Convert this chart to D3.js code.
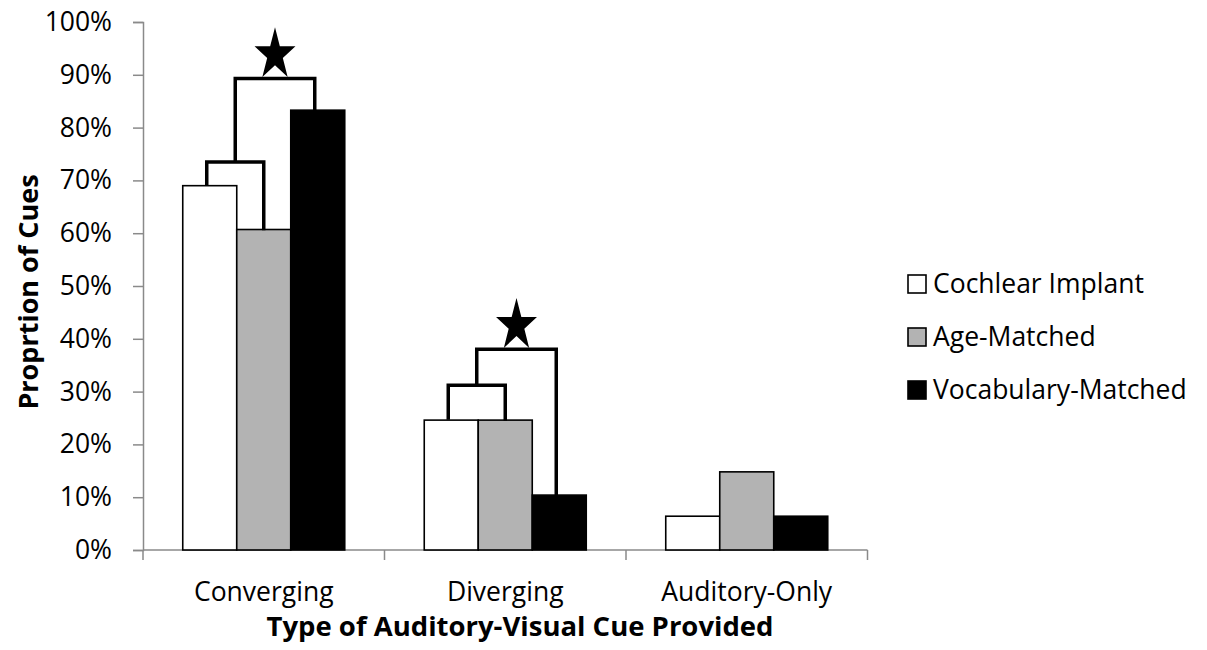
<!DOCTYPE html>
<html>
<head>
<meta charset="utf-8">
<script src="https://cdn.jsdelivr.net/npm/d3@7"></script>
<style>
  html, body { margin: 0; padding: 0; background: #fff; }
  svg { display: block; }
  text { font-family: "Open Sans", "Noto Sans", sans-serif; fill: #000; }
</style>
</head>
<body>
<svg id="chart" width="1207" height="650"></svg>
<script>
// ---- data ----
const categories = ["Converging", "Diverging", "Auditory-Only"];
const seriesNames = ["Cochlear Implant", "Age-Matched", "Vocabulary-Matched"];
const cochlearImplant = [69.0, 24.6, 6.4];
const ageMatched = [60.7, 24.6, 14.8];
const vocabularyMatched = [83.3, 10.4, 6.4];
const yTicks = [0, 10, 20, 30, 40, 50, 60, 70, 80, 90, 100];
// significance brackets (percent levels)
const bracketCategories = ["Converging", "Diverging"];
const innerBracketLevels = [73.5, 31.2];
const outerBracketLevels = [89.3, 38.0];

const seriesValues = [cochlearImplant, ageMatched, vocabularyMatched];
const seriesFill = ["#ffffff", "#b3b3b3", "#000000"];

// ---- layout ----
const svg = d3.select("#chart");
const plot = { left: 143, right: 867.5, top: 22, bottom: 550 };

const x0 = d3.scaleBand().domain(categories).range([plot.left, plot.right]).padding(0);
const x1 = d3.scaleBand().domain(d3.range(seriesNames.length))
  .range([0, x0.bandwidth()]).paddingInner(0).paddingOuter(0.736);
const y = d3.scaleLinear().domain([0, 100]).range([plot.bottom, plot.top]);

const axisColor = "#8a8a8a";

// y axis
const yAxis = d3.axisLeft(y).tickValues(yTicks).tickSize(10).tickPadding(21)
  .tickFormat(d => d + "%");
const gy = svg.append("g").attr("transform", `translate(${plot.left},0)`).call(yAxis);
gy.select(".domain").attr("stroke", axisColor).attr("stroke-width", 1.5);
gy.selectAll(".tick line").attr("stroke", axisColor).attr("stroke-width", 1.5);
gy.selectAll(".tick text").attr("font-size", 26.5).attr("font-family", '"Open Sans", sans-serif').attr("fill", "#000");

// x axis
const xAxis = d3.axisBottom(x0).tickSize(0).tickPadding(0).tickFormat("");
const gx = svg.append("g").attr("transform", `translate(0,${plot.bottom})`).call(xAxis);
gx.select(".domain").attr("stroke", axisColor).attr("stroke-width", 1.5).attr("d", `M${plot.left},0H${plot.right}`);
const boundaries = categories.map(c => x0(c)).concat([x0(categories[categories.length - 1]) + x0.bandwidth()]);
gx.selectAll("line.sep").data(boundaries).join("line").attr("class", "sep")
  .attr("x1", d => d).attr("x2", d => d).attr("y1", 0).attr("y2", 10)
  .attr("stroke", axisColor).attr("stroke-width", 1.5);
gx.selectAll("text.cat").data(categories).join("text").attr("class", "cat")
  .attr("x", d => x0(d) + x0.bandwidth() / 2).attr("y", 51)
  .attr("text-anchor", "middle").attr("font-size", 26.5).text(d => d);

// bars
const barData = [];
categories.forEach((c, ci) => seriesValues.forEach((vals, si) => barData.push({ c, si, v: vals[ci] })));
svg.append("g").selectAll("rect").data(barData).join("rect")
  .attr("x", d => x0(d.c) + x1(d.si))
  .attr("y", d => y(d.v))
  .attr("width", x1.bandwidth())
  .attr("height", d => y(0) - y(d.v))
  .attr("fill", d => seriesFill[d.si])
  .attr("stroke", "#000").attr("stroke-width", 1.6);

// brackets + stars
const bg = svg.append("g").attr("fill", "none").attr("stroke", "#000")
  .attr("stroke-width", 3.5).attr("stroke-linejoin", "miter").attr("stroke-linecap", "square");
const center = (c, si) => x0(c) + x1(si) + x1.bandwidth() / 2 - 3;
const starSym = d3.symbol().type(d3.symbolStar).size(520);
bracketCategories.forEach((c, i) => {
  const ci = categories.indexOf(c);
  const v = seriesValues.map(s => s[ci]);
  const xa = center(c, 0), xb = center(c, 1) + 3, xc = center(c, 2);
  const yi = y(innerBracketLevels[i]), yo = y(outerBracketLevels[i]);
  bg.append("path").attr("d", `M${xa},${y(v[0]) - 2}V${yi}H${xb}V${y(v[1]) - 1}`);
  const xm = (xa + xb) / 2;
  bg.append("path").attr("d", `M${xm},${yi - 1}V${yo}H${xc}V${y(v[2]) - 1}`);
  const sx = (xm + xc) / 2;
  svg.append("path").attr("d", starSym())
    .attr("transform", `translate(${sx},${yo - 1.5 - 21.5 * 0.809 * 1.28}) scale(1,1.28)`)
    .attr("fill", "#000");
});

// axis titles
svg.append("text").attr("x", 520).attr("y", 636)
  .attr("text-anchor", "middle").attr("font-size", 27.5).attr("font-weight", "bold")
  .text("Type of Auditory-Visual Cue Provided");
svg.append("text").attr("transform", "translate(38,292) rotate(-90)")
  .attr("text-anchor", "middle").attr("font-size", 27).attr("font-weight", "bold")
  .text("Proprtion of Cues");

// legend
const legendY = [284, 337, 390];
const lg = svg.append("g").selectAll("g").data(seriesNames).join("g")
  .attr("transform", (d, i) => `translate(908,${legendY[i]})`);
lg.append("rect").attr("x", 0).attr("y", -9).attr("width", 18).attr("height", 18)
  .attr("fill", (d, i) => seriesFill[i]).attr("stroke", "#000").attr("stroke-width", 1.6);
lg.append("text").attr("x", 25).attr("y", 0).attr("dy", "0.35em")
  .attr("font-size", 26.5).text(d => d);
</script>
</body>
</html>
